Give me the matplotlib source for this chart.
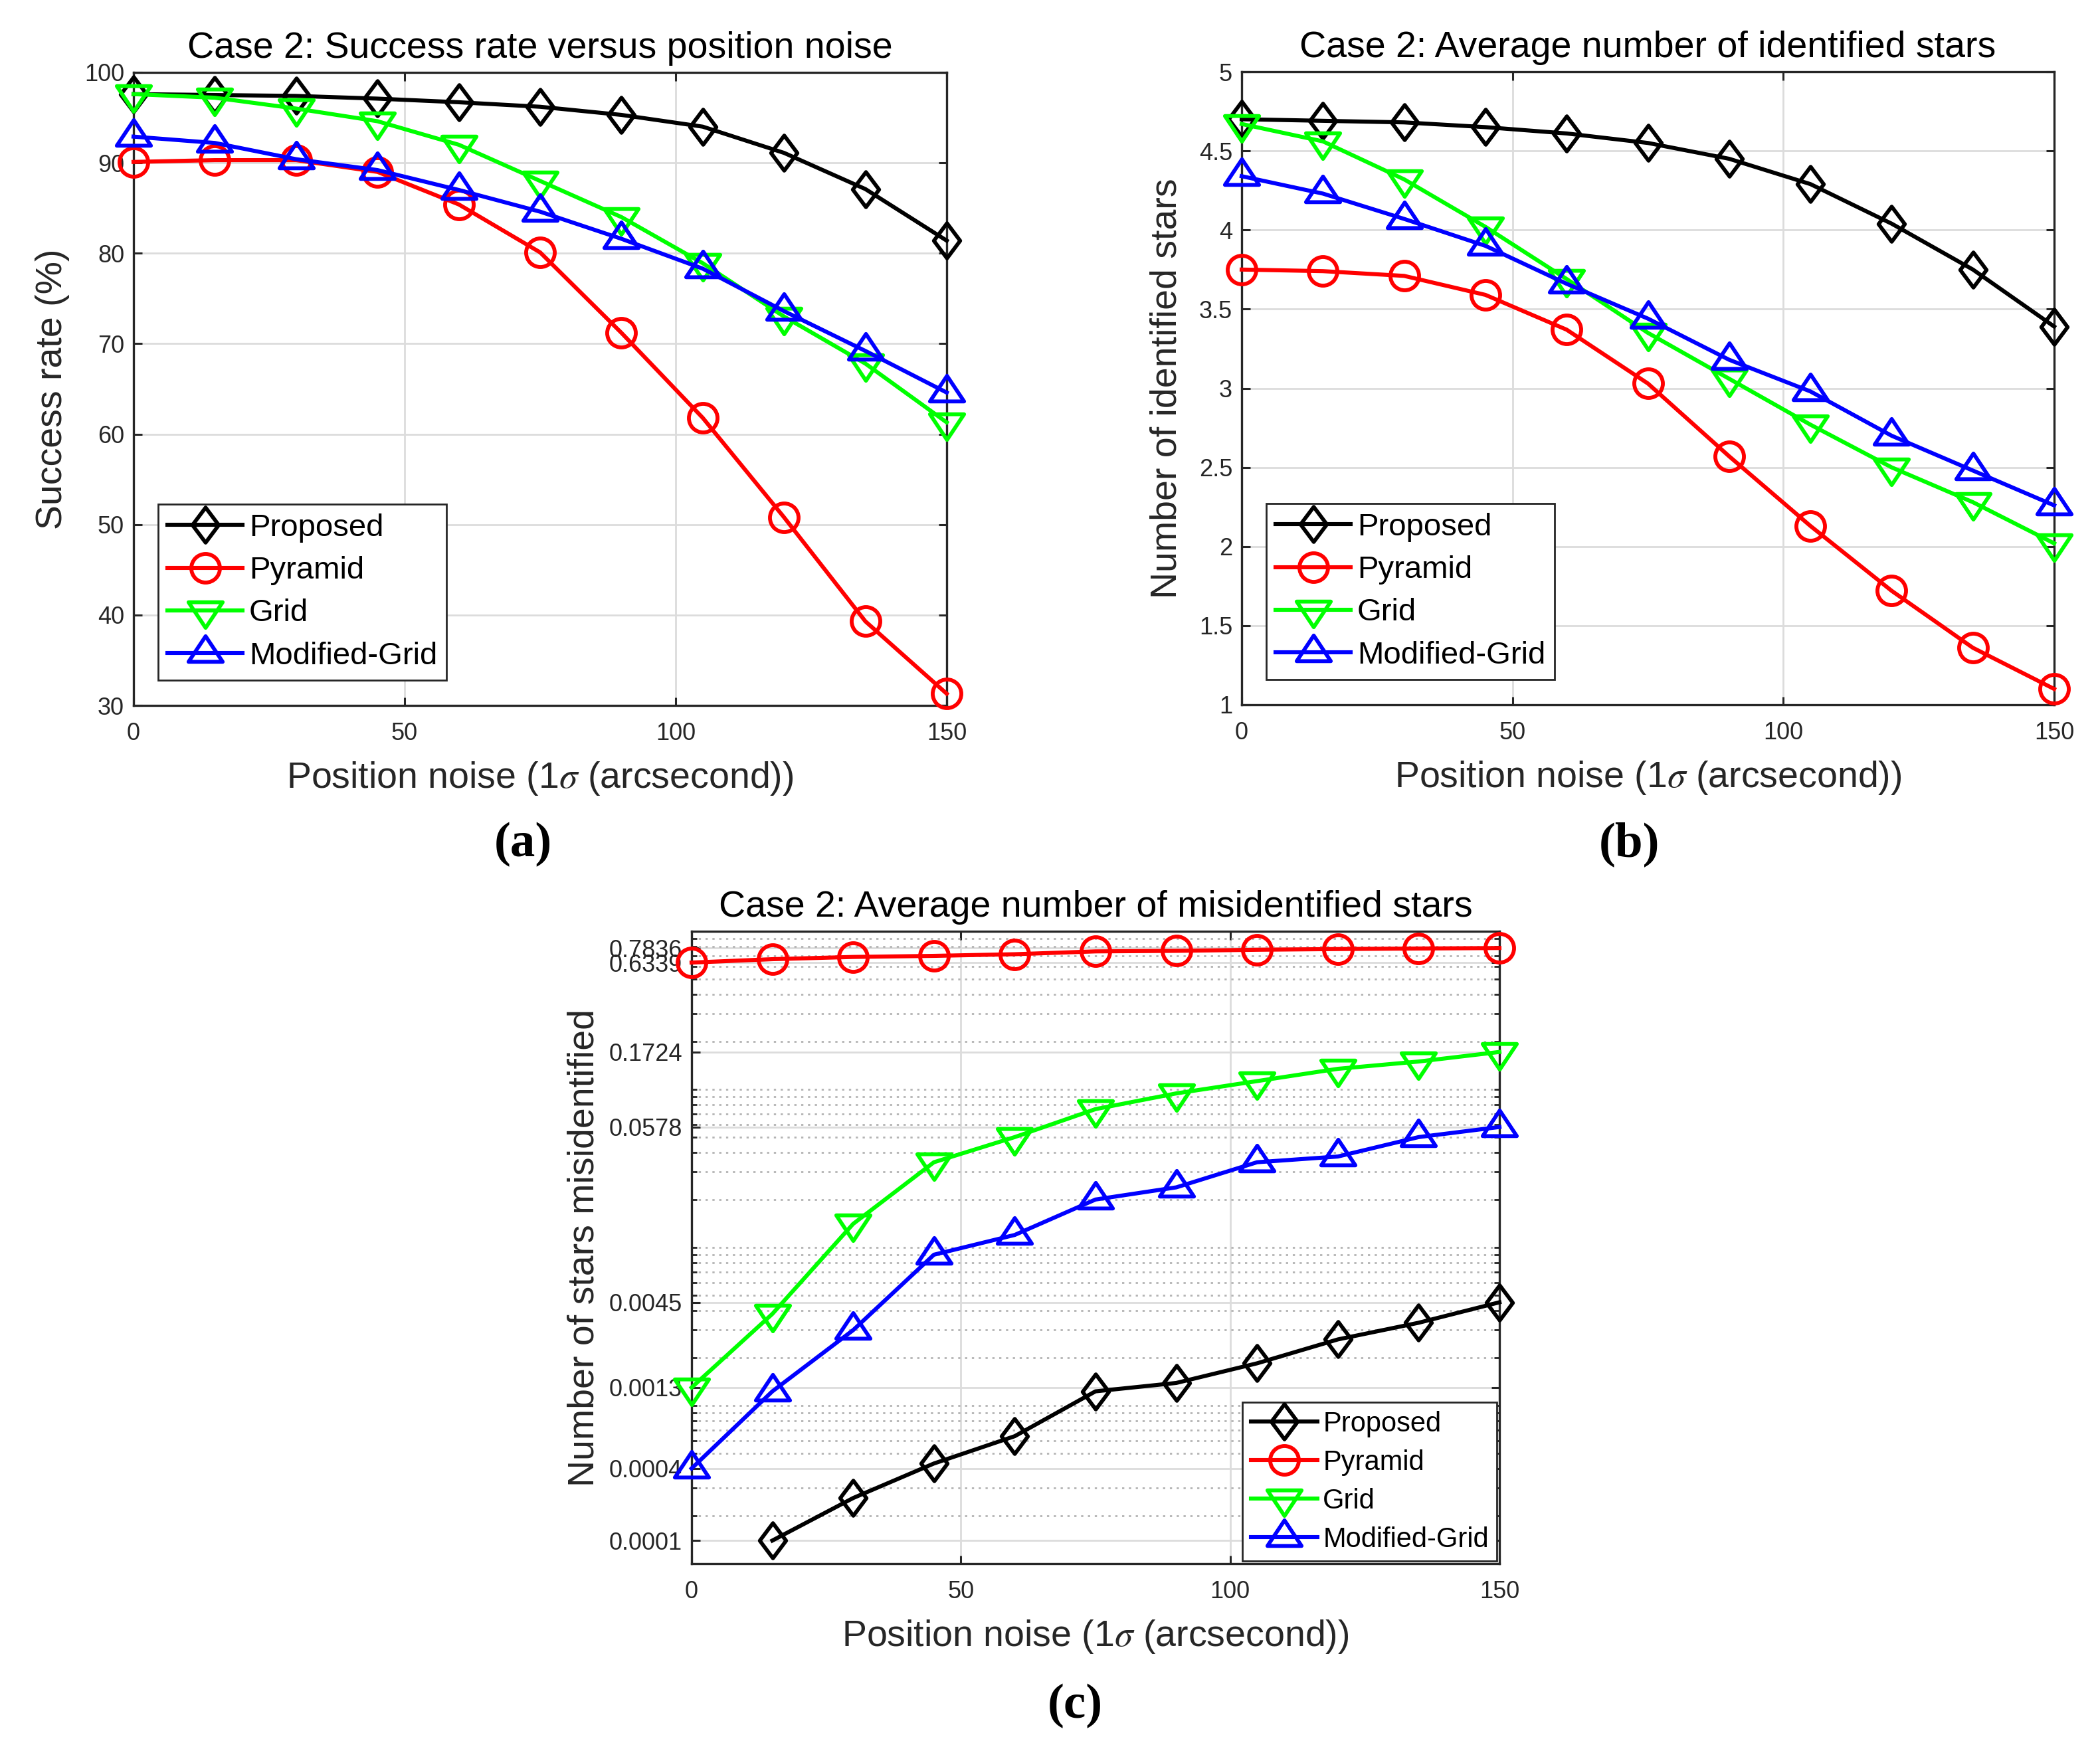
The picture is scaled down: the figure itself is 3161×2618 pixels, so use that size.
import numpy as np
import matplotlib
matplotlib.use("Agg")
import matplotlib.pyplot as plt
from matplotlib.path import Path
from matplotlib.ticker import FixedLocator, FixedFormatter, LogLocator, NullFormatter, FormatStrFormatter

plt.rcParams['font.family'] = ['Liberation Sans', 'DejaVu Sans']
plt.rcParams['mathtext.fontset'] = 'stix'

# noise levels (1 sigma, arcsec)
noise = [0, 15, 30, 45, 60, 75, 90, 105, 120, 135, 150]
methods = ['Proposed', 'Pyramid', 'Grid', 'Modified-Grid']

# (a) success rate (%)
prop_a = [97.6, 97.5, 97.4, 97.1, 96.7, 96.2, 95.3, 94.0, 91.1, 87.1, 81.4]
pyr_a = [90.1, 90.3, 90.3, 89.0, 85.4, 80.1, 71.2, 61.8, 50.8, 39.3, 31.3]
grid_a = [97.6, 97.2, 96.0, 94.6, 92.0, 88.0, 84.0, 78.9, 73.0, 67.8, 61.3]
mgrid_a = [92.9, 92.2, 90.4, 89.2, 87.0, 84.6, 81.6, 78.3, 73.6, 69.2, 64.6]

# (b) average number of identified stars
prop_b = [4.70, 4.69, 4.68, 4.65, 4.61, 4.55, 4.45, 4.29, 4.04, 3.75, 3.39]
pyr_b = [3.75, 3.74, 3.71, 3.59, 3.37, 3.03, 2.57, 2.13, 1.72, 1.36, 1.10]
grid_b = [4.67, 4.56, 4.32, 4.02, 3.69, 3.35, 3.06, 2.77, 2.50, 2.28, 2.02]
mgrid_b = [4.34, 4.23, 4.07, 3.90, 3.66, 3.44, 3.18, 2.98, 2.70, 2.48, 2.26]

# (c) average number of misidentified stars (log axis, 0 is not drawn)
prop_c = [0, 0.00014, 0.00026, 0.00043, 0.00064, 0.00123, 0.00139, 0.00185, 0.00262, 0.00334, 0.0045]
pyr_c = [0.6339, 0.666, 0.688, 0.699, 0.716, 0.746, 0.752, 0.764, 0.772, 0.778, 0.7836]
grid_c = [0.0013, 0.0038, 0.0141, 0.0346, 0.0499, 0.0750, 0.0943, 0.1128, 0.1349, 0.150, 0.1724]
mgrid_c = [0.0004, 0.00123, 0.0030, 0.0090, 0.0120, 0.0201, 0.0240, 0.0346, 0.0376, 0.0499, 0.0578]

# matlab-like hollow markers
diamond = Path([(0, 1), (0.75, 0), (0, -1), (-0.75, 0), (0, 1)], closed=True)
tri_up = Path([(0, 0.5), (0.5, -0.25), (-0.5, -0.25), (0, 0.5)], closed=True)
tri_down = Path([(0, -0.5), (0.5, 0.25), (-0.5, 0.25), (0, -0.5)], closed=True)

styles = [
    dict(color='#000000', marker=diamond, ms=19),
    dict(color='#ff0000', marker='o', ms=15.5),
    dict(color='#00ff00', marker=tri_down, ms=18.5),
    dict(color='#0000ff', marker=tri_up, ms=18.5),
]

TXT = '#262626'
xlab = r'Position noise (1$\sigma$ (arcsecond))'

W, H = 3161, 2618
fig = plt.figure(figsize=(W / 200, H / 200), dpi=200)


def box(l, t, r, b):
    return fig.add_axes([l / W, 1 - b / H, (r - l) / W, (b - t) / H])


def draw(ax, series):
    for ys, st, name in zip(series, styles, methods):
        ax.plot(noise, ys, color=st['color'], lw=2.2, marker=st['marker'], ms=st['ms'],
                mfc='none', mec=st['color'], mew=2.1, label=name, clip_on=False, zorder=3)


def style(ax):
    ax.tick_params(which='major', direction='in', top=True, right=True, length=4.5, width=1.1,
                   colors=TXT, labelsize=13)
    ax.tick_params(axis='x', pad=9)
    ax.tick_params(axis='y', pad=5)
    for s in ax.spines.values():
        s.set_color(TXT)
        s.set_linewidth(1.2)
        s.set_zorder(2.5)
    ax.grid(True, which='major', color='#dcdcdc', linewidth=1.0)
    ax.set_axisbelow(True)
    ax.set_xlim(0, 150)
    ax.set_xticks([0, 50, 100, 150])
    ax.set_xlabel(xlab, fontsize=20, color=TXT, labelpad=8)


def legend(ax, fontsize=17, **kw):
    leg = ax.legend(fontsize=fontsize, frameon=True, fancybox=False, edgecolor=TXT,
                    framealpha=1, borderaxespad=0, handlelength=2.4, labelspacing=0.43,
                    borderpad=0.3, handletextpad=0.2, numpoints=1, **kw)
    leg.get_frame().set_linewidth(1.0)
    leg.set_zorder(5)
    return leg


# (a)
ax1 = box(201, 109, 1425, 1062)
draw(ax1, [prop_a, pyr_a, grid_a, mgrid_a])
style(ax1)
ax1.set_ylim(30, 100)
ax1.set_yticks(np.arange(30, 101, 10))
ax1.set_ylabel('Success rate (%)', fontsize=20, color=TXT, labelpad=8)
ax1.set_title('Case 2: Success rate versus position noise', fontsize=20, pad=8)
legend(ax1, loc='lower left', bbox_to_anchor=(0.03, 0.04))

# (b)
ax2 = box(1869, 108, 3092, 1061)
draw(ax2, [prop_b, pyr_b, grid_b, mgrid_b])
style(ax2)
ax2.set_ylim(1, 5)
ax2.set_yticks(np.arange(1, 5.01, 0.5))
ax2.yaxis.set_major_formatter(FormatStrFormatter('%g'))
ax2.set_ylabel('Number of identified stars', fontsize=20, color=TXT, labelpad=8)
ax2.set_title('Case 2: Average number of identified stars', fontsize=20, pad=8)
legend(ax2, loc='lower left', bbox_to_anchor=(0.03, 0.04))

# (c)
ax3 = box(1041, 1402, 2257, 2354)
draw(ax3, [prop_c, pyr_c, grid_c, mgrid_c])
ax3.set_yscale('log', nonpositive='mask')
style(ax3)
ax3.set_ylim(1e-4, 1)
yt = sorted([prop_c[1], mgrid_c[0], grid_c[0], prop_c[-1], mgrid_c[-1], grid_c[-1], pyr_c[0], pyr_c[-1]])
ax3.yaxis.set_major_locator(FixedLocator(yt))
ax3.yaxis.set_major_formatter(FixedFormatter(['%.4f' % v for v in yt]))
ax3.yaxis.set_minor_locator(LogLocator(base=10, subs=np.arange(1, 10), numticks=50))
ax3.yaxis.set_minor_formatter(NullFormatter())
ax3.tick_params(which='minor', direction='in', left=True, right=True, length=3, width=1.0, colors=TXT)
ax3.grid(True, which='minor', axis='y', color='#b4b4b4', linestyle=(0, (1.2, 2.5)), linewidth=1.0)
ax3.set_ylabel('Number of stars misidentified', fontsize=20, color=TXT, labelpad=4)
ax3.set_title('Case 2: Average number of misidentified stars', fontsize=20, pad=8)
legend(ax3, fontsize=15, loc='lower right', bbox_to_anchor=(0.997, 0.004))

# sub-figure labels
for lab, px, py in [('(a)', 787, 1271), ('(b)', 2453, 1271), ('(c)', 1618, 2568)]:
    fig.text(px / W, 1 - py / H, lab, ha='center', va='center', fontsize=27,
             fontweight='bold', family=['Liberation Serif', 'DejaVu Serif'])

fig.savefig('out.png', dpi=200)
